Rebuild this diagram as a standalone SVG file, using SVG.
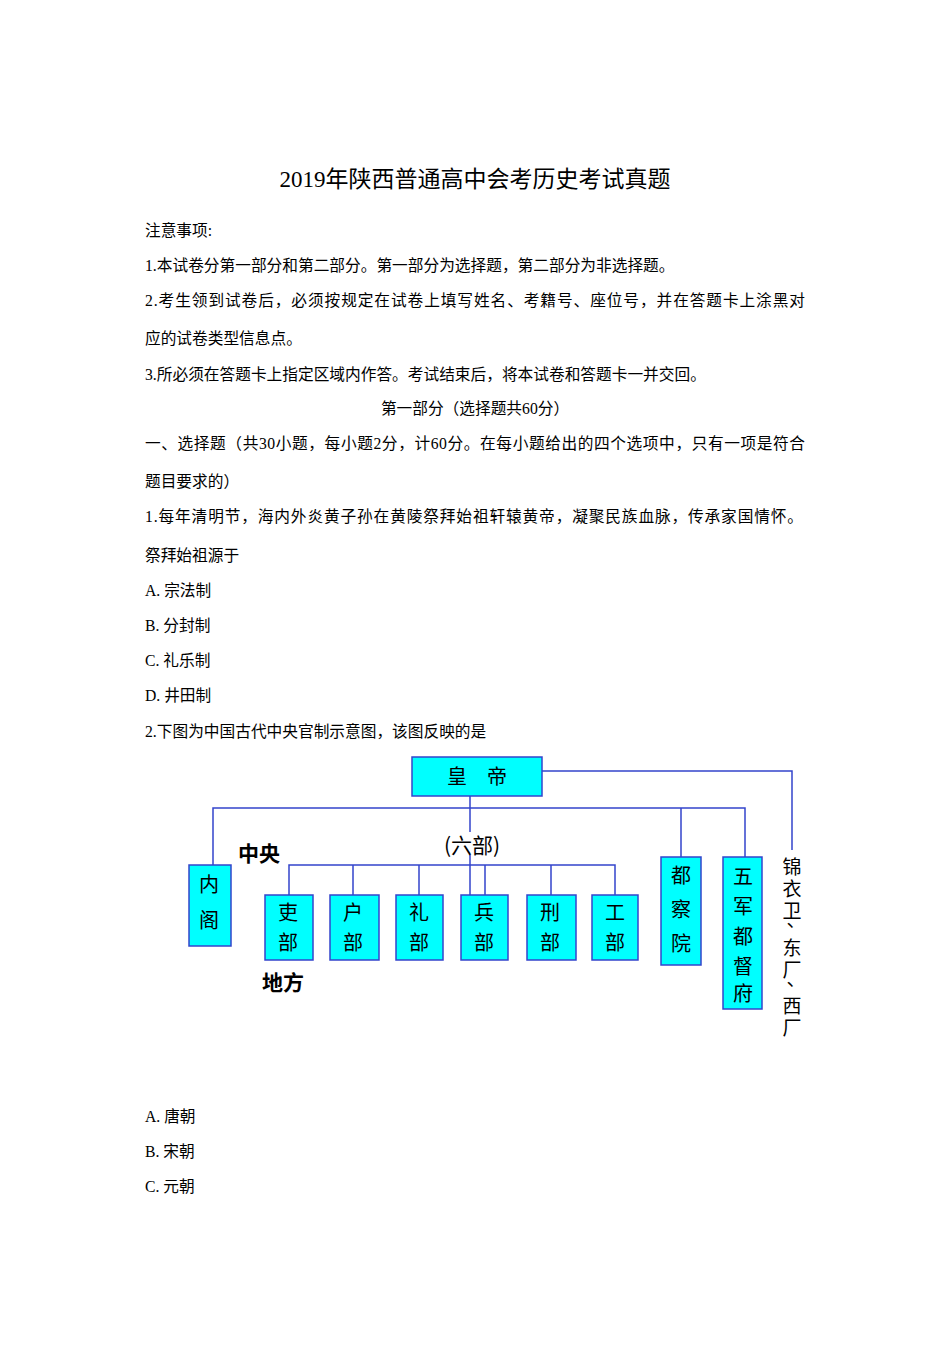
<svg xmlns="http://www.w3.org/2000/svg" width="950" height="1346" viewBox="0 0 950 1346">
<style>
.t{font-family:"Liberation Serif","Noto Sans CJK SC",serif;font-size:15.7px;fill:#000}
.b{fill:#00ffff;stroke:#3344cc;stroke-width:1.5}
.bt{font-family:"Noto Sans CJK SC",sans-serif;font-size:20px;fill:#000;text-anchor:middle}
.ln{stroke:#3344cc;stroke-width:1.5;fill:none}
.lb{font-family:"Noto Sans CJK SC",sans-serif;font-size:21px;font-weight:bold;fill:#000}
</style>
<rect width="950" height="1346" fill="#fff"/>
<text x="475" y="187" text-anchor="middle" class="t" style="font-size:23px">2019年陕西普通高中会考历史考试真题</text>
<text x="145" y="236" class="t">注意事项:</text>
<text x="145" y="271" class="t">1.本试卷分第一部分和第二部分。第一部分为选择题，第二部分为非选择题。</text>
<text x="145" y="306" class="t" textLength="660">2.考生领到试卷后，必须按规定在试卷上填写姓名、考籍号、座位号，并在答题卡上涂黑对</text>
<text x="145" y="344" class="t">应的试卷类型信息点。</text>
<text x="145" y="380" class="t">3.所必须在答题卡上指定区域内作答。考试结束后，将本试卷和答题卡一并交回。</text>
<text x="475" y="414" text-anchor="middle" class="t">第一部分（选择题共60分）</text>
<text x="145" y="449" class="t" textLength="660">一、选择题（共30小题，每小题2分，计60分。在每小题给出的四个选项中，只有一项是符合</text>
<text x="145" y="487" class="t">题目要求的）</text>
<text x="145" y="522" class="t" textLength="658">1.每年清明节，海内外炎黄子孙在黄陵祭拜始祖轩辕黄帝，凝聚民族血脉，传承家国情怀。</text>
<text x="145" y="561" class="t">祭拜始祖源于</text>
<text x="145" y="596" class="t">A.  宗法制</text>
<text x="145" y="631" class="t">B.  分封制</text>
<text x="145" y="666" class="t">C.  礼乐制</text>
<text x="145" y="701" class="t">D.  井田制</text>
<text x="145" y="737" class="t">2.下图为中国古代中央官制示意图，该图反映的是</text>
<g id="connectors">
<path class="ln" d="M542 771H792V850"/>
<path class="ln" d="M470 796V832M470 855V895"/>
<path class="ln" d="M213 865V808H745V857M681 808V857"/>
<path class="ln" d="M289 895V865H615V895M353 865V895M419 865V895M485 865V895M551 865V895"/>
</g>
<g id="n-hd"><rect class="b" x="412" y="757" width="130" height="39"/><text class="bt" x="477" y="784">皇　帝</text></g>
<g id="n-ng"><rect class="b" x="189" y="865" width="42" height="81"/><text class="bt" x="209" y="892">内</text><text class="bt" x="209" y="928">阁</text></g>
<g id="n-lb"><rect class="b" x="265" y="895" width="48" height="65"/><text class="bt" x="288" y="920">吏</text><text class="bt" x="288" y="950">部</text></g>
<g id="n-hb"><rect class="b" x="330" y="895" width="49" height="65"/><text class="bt" x="353" y="920">户</text><text class="bt" x="353" y="950">部</text></g>
<g id="n-lib"><rect class="b" x="396" y="895" width="47" height="65"/><text class="bt" x="419" y="920">礼</text><text class="bt" x="419" y="950">部</text></g>
<g id="n-bb"><rect class="b" x="461" y="895" width="47" height="65"/><text class="bt" x="484" y="920">兵</text><text class="bt" x="484" y="950">部</text></g>
<g id="n-xb"><rect class="b" x="527" y="895" width="49" height="65"/><text class="bt" x="550" y="920">刑</text><text class="bt" x="550" y="950">部</text></g>
<g id="n-gb"><rect class="b" x="592" y="895" width="46" height="65"/><text class="bt" x="615" y="920">工</text><text class="bt" x="615" y="950">部</text></g>
<g id="n-dcy"><rect class="b" x="661" y="857" width="40" height="108"/><text class="bt" x="681" y="883">都</text><text class="bt" x="681" y="917">察</text><text class="bt" x="681" y="951">院</text></g>
<g id="n-wj"><rect class="b" x="723" y="857" width="39" height="152"/><text class="bt" x="743" y="884">五</text><text class="bt" x="743" y="914">军</text><text class="bt" x="743" y="944">都</text><text class="bt" x="743" y="974">督</text><text class="bt" x="743" y="1001">府</text></g>
<text class="lb" x="238" y="861">中央</text>
<text class="lb" x="262" y="990">地方</text>
<text class="lb" x="472" y="853" text-anchor="middle" style="font-weight:normal">(六部)</text>
<g font-family="Noto Sans CJK SC,sans-serif" font-size="19" text-anchor="middle">
<text x="792" y="874">锦</text><text x="792" y="896">衣</text><text x="792" y="918">卫</text><text x="796" y="927">、</text><text x="792" y="955">东</text><text x="792" y="977">厂</text><text x="796" y="986">、</text><text x="792" y="1013">西</text><text x="792" y="1035">厂</text>
</g>
<text x="145" y="1122" class="t">A.  唐朝</text>
<text x="145" y="1157" class="t">B.  宋朝</text>
<text x="145" y="1192" class="t">C.  元朝</text>
</svg>
